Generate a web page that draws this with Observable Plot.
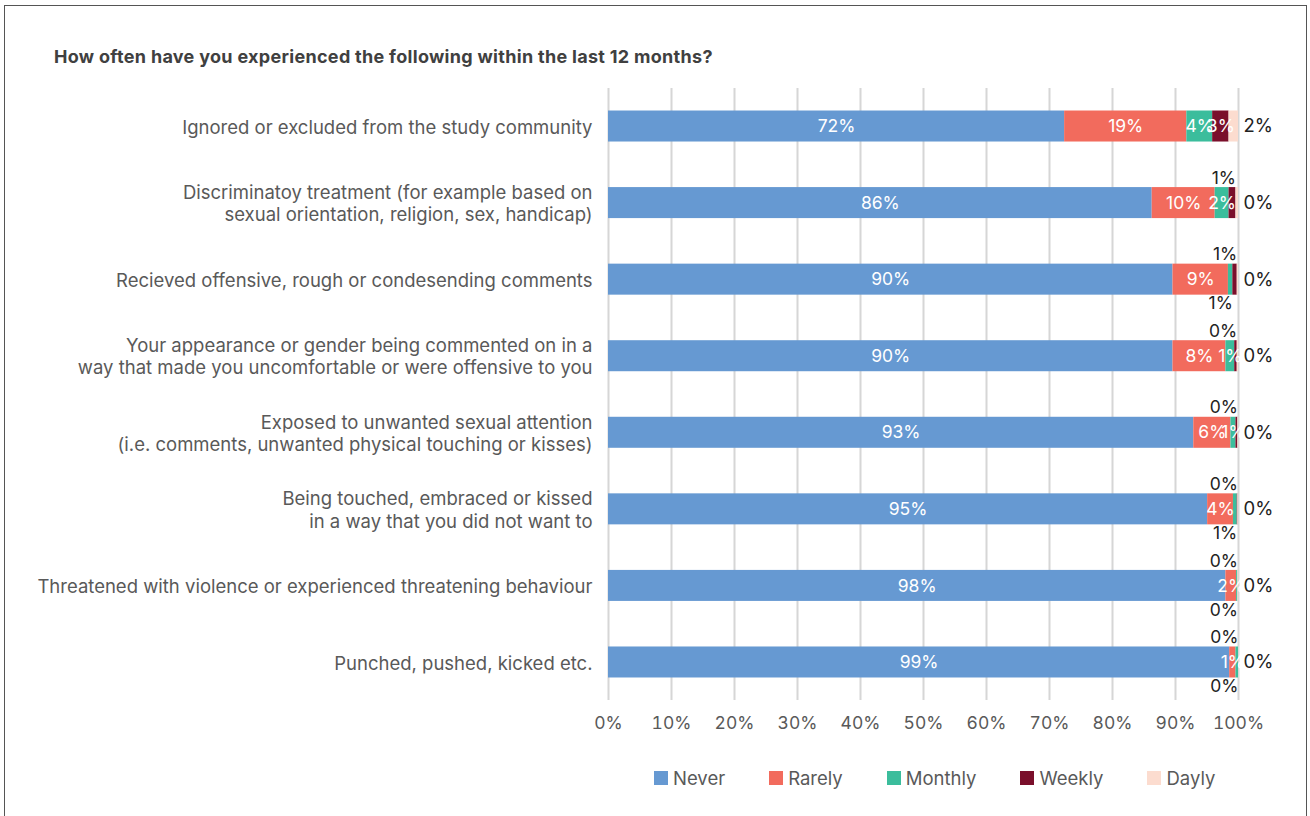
<!DOCTYPE html>
<html>
<head>
<meta charset="utf-8">
<script src="https://cdn.jsdelivr.net/npm/d3@7"></script>
<script src="https://cdn.jsdelivr.net/npm/@observablehq/plot@0.6"></script>
<style>
  html, body { margin: 0; padding: 0; background: #fff; }
  body { width: 1310px; height: 816px; position: relative; overflow: hidden; font-family: Inter, "Noto Sans", sans-serif; }
  #frame { position: absolute; left: 4px; top: 5px; width: 1303px; height: 830px; border: 1.5px solid #555; box-sizing: border-box; }
  #title { position: absolute; left: 54px; top: 46px; font-weight: 700; font-size: 18px; color: #404040; letter-spacing: 0.3px; white-space: nowrap; }
  #chart { position: absolute; left: 0; top: 80px; }
  #legend { position: absolute; left: 654px; top: 767px; display: flex; gap: 44px; font-size: 18.5px; color: #595959; }
  #legend .item { display: flex; align-items: center; }
  #legend .sw { width: 14px; height: 14px; margin-right: 5px; }
</style>
</head>
<body>
<div id="frame"></div>
<div id="title">How often have you experienced the following within the last 12 months?</div>
<div id="chart"></div>
<div id="legend"></div>
<script>
const categories = [
  "Ignored or excluded from the study community",
  "Discriminatoy treatment (for example based on\nsexual orientation, religion, sex, handicap)",
  "Recieved offensive, rough or condesending comments",
  "Your appearance or gender being commented on in a\nway that made you uncomfortable or were offensive to you",
  "Exposed to unwanted sexual attention\n(i.e. comments, unwanted physical touching or kisses)",
  "Being touched, embraced or kissed\nin a way that you did not want to",
  "Threatened with violence or experienced threatening behaviour",
  "Punched, pushed, kicked etc."
];
const series = ["Never", "Rarely", "Monthly", "Weekly", "Dayly"];
const colors = ["#6699D2", "#F26B5D", "#3BBD9C", "#7A0F2B", "#FCDCCF"];
const never   = [72.4, 86.3, 89.6, 89.6, 92.9, 95.1, 98.0, 98.6];
const rarely  = [19.4, 10.0,  8.8,  8.4,  5.9,  4.1,  1.7,  1.0];
const monthly = [ 4.1,  2.2,  0.7,  1.4,  0.8,  0.6,  0.2,  0.4];
const weekly  = [ 2.6,  1.1,  0.7,  0.4,  0.3,  0.1,  0.0,  0.0];
const dayly   = [ 1.5,  0.4,  0.2,  0.2,  0.1,  0.1,  0.1,  0.0];
const xTicks = [0, 10, 20, 30, 40, 50, 60, 70, 80, 90, 100];

const valuesBySeries = [never, rarely, monthly, weekly, dayly];
const fmt = v => Math.round(v) + "%";

// Build segments with cumulative starts/ends and label placement
const segments = [];
categories.forEach((cat, i) => {
  let acc = 0;
  const rowSegs = [];
  series.forEach((s, j) => {
    const v = valuesBySeries[j][i];
    const seg = {cat, series: s, value: v, x1: acc, x2: acc + v, mid: acc + v / 2, label: fmt(v)};
    const minInside = s === "Weekly" ? 2 : 0.75;
    if (j === series.length - 1) seg.place = "right";
    else if (v >= minInside) seg.place = "inside";
    else seg.place = "small";
    rowSegs.push(seg);
    acc += v;
  });
  // small labels alternate above / below, starting from the last small segment
  let k = 0;
  for (let j = rowSegs.length - 1; j >= 0; j--) {
    if (rowSegs[j].place === "small") { rowSegs[j].place = k % 2 === 0 ? "above" : "below"; k++; }
  }
  segments.push(...rowSegs);
});

const plot = Plot.plot({
  width: 1310,
  height: 660,
  marginLeft: 608,
  marginRight: 72,
  marginTop: 8,
  marginBottom: 40,
  style: {fontFamily: "Inter, 'Noto Sans', sans-serif", fontSize: "18px", background: "transparent"},
  x: {domain: [0, 100]},
  y: {domain: categories, paddingInner: 0.595, paddingOuter: 0.294, round: false},
  color: {domain: series, range: colors},
  marks: [
    Plot.gridX(xTicks, {stroke: "#d6d6d6", strokeOpacity: 1, strokeWidth: 2}),
    Plot.barX(segments, {x1: "x1", x2: "x2", y: "cat", fill: "series"}),
    Plot.text(segments.filter(d => d.place === "inside"), {x: "mid", y: "cat", text: "label", fill: "white", fontSize: 17.5}),
    Plot.text(segments.filter(d => d.place === "above"), {x: "x2", y: "cat", text: "label", fill: "#222", fontSize: 17.5, textAnchor: "end", dy: -25}),
    Plot.text(segments.filter(d => d.place === "below"), {x: "x2", y: "cat", text: "label", fill: "#222", fontSize: 17.5, textAnchor: "end", dy: 24}),
    Plot.text(segments.filter(d => d.place === "right"), {x: 100, y: "cat", text: "label", fill: "#222", fontSize: 18.5, textAnchor: "start", dx: 5}),
    Plot.axisX({ticks: xTicks, tickSize: 0, tickPadding: 16, tickFormat: d => d + "%", fontSize: 17.5, fill: "#595959", label: null}),
    Plot.axisY({tickSize: 0, tickPadding: 16, fontSize: 18.5, fill: "#595959", lineHeight: 1.2, label: null})
  ]
});
document.getElementById("chart").appendChild(plot);

const legend = document.getElementById("legend");
series.forEach((s, j) => {
  const item = document.createElement("div");
  item.className = "item";
  const sw = document.createElement("span");
  sw.className = "sw";
  sw.style.background = colors[j];
  const t = document.createElement("span");
  t.textContent = s;
  item.appendChild(sw);
  item.appendChild(t);
  legend.appendChild(item);
});
</script>
</body>
</html>
